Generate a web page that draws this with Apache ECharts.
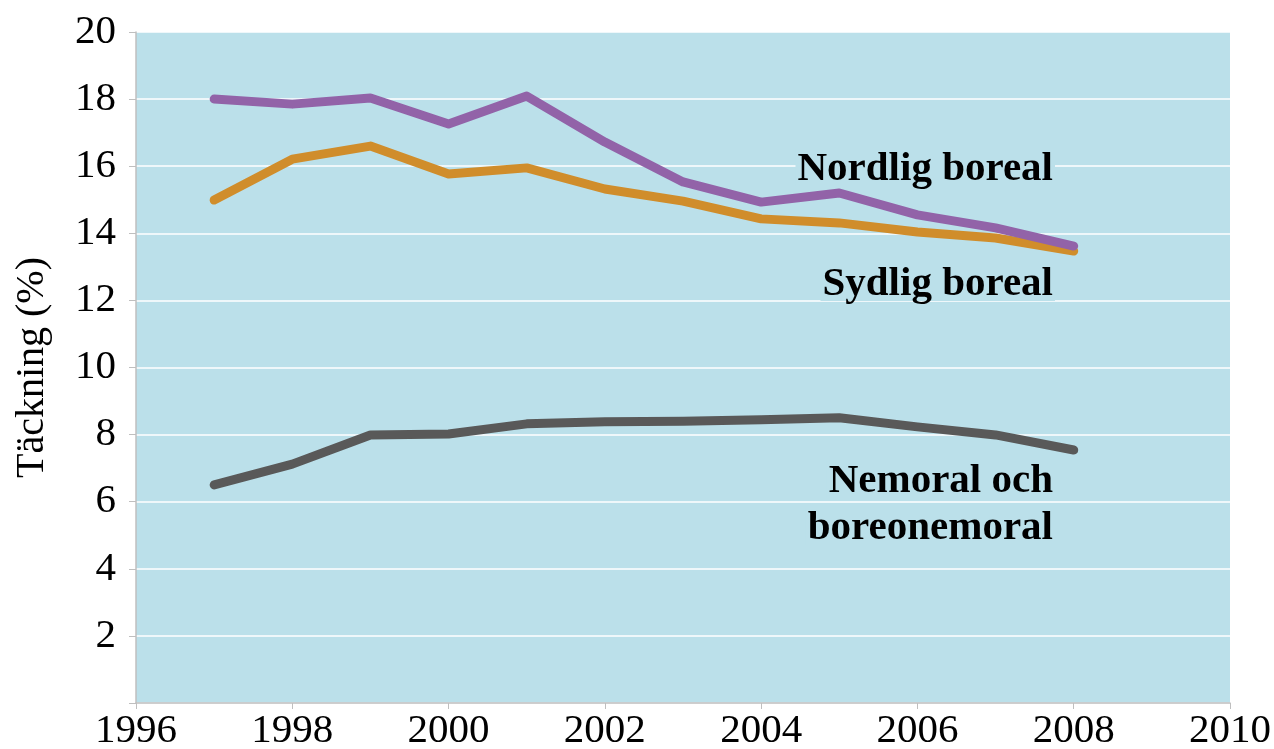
<!DOCTYPE html>
<html><head><meta charset="utf-8">
<script src="https://cdn.jsdelivr.net/npm/echarts@6/dist/echarts.min.js"></script>
<style>html,body{margin:0;padding:0;background:#fff}#c{width:1274px;height:749px}</style>
</head><body><div id="c"></div>
<script>
const years = [1997,1998,1999,2000,2001,2002,2003,2004,2005,2006,2007,2008];
const nordlig = [18.0,17.85,18.03,17.26,18.09,16.72,15.53,14.93,15.2,14.55,14.16,13.62];
const sydlig = [14.99,16.21,16.6,15.77,15.95,15.32,14.96,14.43,14.31,14.04,13.86,13.47];
const nemoral = [6.5,7.12,7.99,8.02,8.32,8.38,8.4,8.44,8.5,8.23,7.99,7.54];
const seriesNames = ['Nordlig boreal','Sydlig boreal','Nemoral och\nboreonemoral'];
const yTitle = 'Täckning (%)';

const font = '"Liberation Serif","Times New Roman",serif';
const bg = '#BBE0EA';
const chart = echarts.init(document.getElementById('c'));
const mk = (name, data, color) => ({
  name, type:'line', data: years.map((y,i)=>[y,data[i]]), symbol:'none',
  lineStyle:{color, width:9, cap:'round', join:'round'}, itemStyle:{color}
});
const lab = (text, top) => ({type:'text', right:219, top, z:100,
  style:{text, font:'bold 41px '+font, fill:'#000', textAlign:'right', backgroundColor:bg, padding:[0,2,-4,2]}});
const nemLines = seriesNames[2].split('\n');
chart.setOption({
  animation:false,
  grid:{left:136,right:44,top:32,bottom:46,show:true,backgroundColor:bg,borderWidth:0,outerBoundsMode:'none',containLabel:false},
  xAxis:{type:'value',min:1996,max:2010,interval:2,
    axisLine:{show:true,lineStyle:{color:'#BFBFBF',width:1.5}},
    axisTick:{show:true,length:6,lineStyle:{color:'#BFBFBF'}},
    splitLine:{show:false},
    axisLabel:{color:'#000',fontFamily:font,fontSize:41,margin:8,formatter:v=>String(v)}},
  yAxis:{type:'value',min:0,max:20,interval:2,
    name:yTitle,nameLocation:'middle',nameGap:84,nameRotate:90,
    nameTextStyle:{color:'#000',fontFamily:font,fontSize:40},
    axisLine:{show:true,lineStyle:{color:'#BFBFBF',width:1.5}},
    axisTick:{show:true,length:7,lineStyle:{color:'#BFBFBF'}},
    splitLine:{show:true,lineStyle:{color:'#FFFFFF',width:1.5}},
    axisLabel:{color:'#000',fontFamily:font,fontSize:41,margin:20,
      formatter:v=>v===0?'':String(v)}},
  series:[
    mk(seriesNames[2], nemoral, '#595959'),
    mk(seriesNames[1], sydlig, '#D08D2B'),
    mk(seriesNames[0], nordlig, '#9263A8')
  ],
  graphic:[
    lab(seriesNames[0], 149),
    lab(seriesNames[1], 264),
    lab(nemLines[0], 461),
    lab(nemLines[1], 508)
  ]
});
</script></body></html>
